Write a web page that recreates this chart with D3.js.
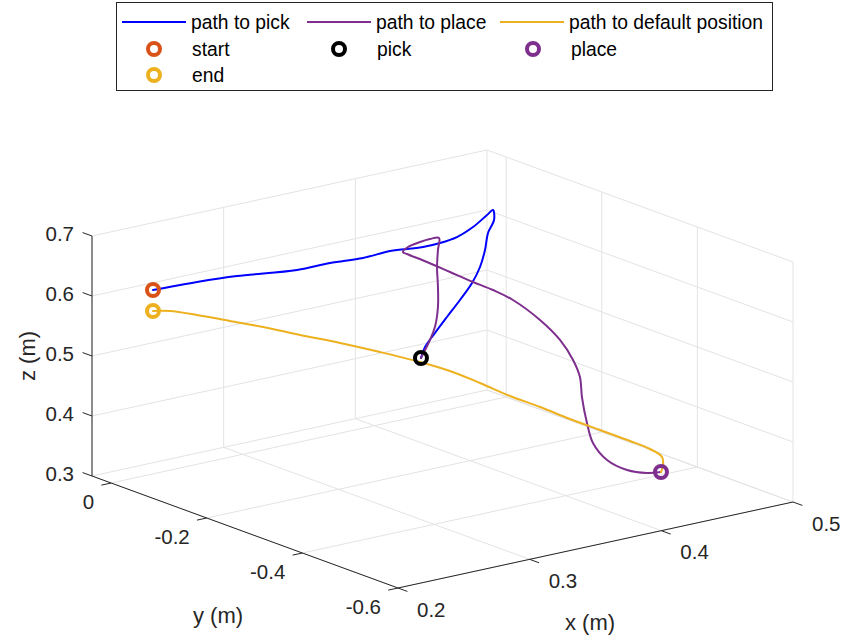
<!DOCTYPE html>
<html>
<head>
<meta charset="utf-8">
<script src="https://cdn.jsdelivr.net/npm/d3@7"></script>
<style>
  html, body { margin: 0; padding: 0; background: #fff; }
  svg { display: block; font-family: "Liberation Sans", Arial, Helvetica, sans-serif; }
</style>
</head>
<body>
<svg id="chart" width="848" height="638"></svg>
<script>
// ---------------- data (metres) ----------------
const xTicks = [0.2, 0.3, 0.4, 0.5];
const yTicks = [-0.6, -0.4, -0.2, 0];
const zTicks = [0.3, 0.4, 0.5, 0.6, 0.7];
const xTickLabels = ["0.2", "0.3", "0.4", "0.5"];
const yTickLabels = ["-0.6", "-0.4", "-0.2", "0"];
const zTickLabels = ["0.3", "0.4", "0.5", "0.6", "0.7"];

const pathToPickX = [0.2318,0.2616,0.2883,0.3285,0.3499,0.3713,0.3882,0.3975,0.4060,0.4153,0.4245,0.4331,0.4401,0.4428,0.4418,0.4354,0.4313,0.4257,0.4160,0.4032,0.3897,0.3770,0.3676,0.3627];
const pathToPickY = [0,-0.01,-0.02,-0.035,-0.045,-0.055,-0.065,-0.075,-0.085,-0.095,-0.105,-0.115,-0.125,-0.13,-0.135,-0.14,-0.145,-0.15,-0.16,-0.17,-0.18,-0.19,-0.195,-0.2];
const pathToPickZ = [0.6065,0.6085,0.6086,0.6038,0.6082,0.6092,0.6157,0.6175,0.6197,0.6248,0.6333,0.6488,0.6684,0.6769,0.6622,0.6450,0.6201,0.5959,0.5768,0.5575,0.5385,0.5209,0.5035,0.4889];

const pathToPlaceX = [0.3627,0.3695,0.3733,0.3756,0.3756,0.3749,0.3756,0.3764,0.3695,0.3620,0.3528,0.3490,0.3484,0.3564,0.3666,0.3768,0.3847,0.3926,0.4059,0.4138,0.4201,0.4217,0.4196,0.4198,0.4207,0.4241,0.4357,0.4472,0.4542];
const pathToPlaceY = [-0.2,-0.2,-0.2,-0.2,-0.2,-0.2,-0.2,-0.2,-0.2,-0.2,-0.2,-0.2,-0.21,-0.23,-0.25,-0.27,-0.29,-0.31,-0.33,-0.35,-0.36,-0.37,-0.38,-0.39,-0.40,-0.42,-0.43,-0.44,-0.45];
const pathToPlaceZ = [0.4889,0.5157,0.5355,0.5678,0.6011,0.6348,0.6628,0.6824,0.6840,0.6826,0.6786,0.6721,0.6720,0.6607,0.6450,0.6293,0.6180,0.6034,0.5695,0.5383,0.5049,0.4786,0.4492,0.4087,0.3779,0.3538,0.3345,0.3269,0.3281];

const pathToDefaultX = [0.4542,0.4557,0.4550,0.4495,0.4416,0.4297,0.4178,0.4059,0.3940,0.3821,0.3702,0.3583,0.3388,0.3194,0.2999,0.2827,0.2685,0.2507,0.2374,0.2318];
const pathToDefaultY = [-0.45,-0.45,-0.45,-0.44,-0.42,-0.39,-0.36,-0.33,-0.30,-0.27,-0.24,-0.21,-0.18,-0.15,-0.12,-0.09,-0.06,-0.04,-0.02,0];
const pathToDefaultZ = [0.3281,0.3374,0.3528,0.3658,0.3771,0.3923,0.4076,0.4245,0.4398,0.4584,0.4753,0.4873,0.5045,0.5201,0.5340,0.5468,0.5548,0.5675,0.5746,0.5715];

const markerNames = ["start", "pick", "place", "end"];
const markerX = [0.2318, 0.3627, 0.4542, 0.2318];
const markerY = [0, -0.2, -0.45, 0];
const markerZ = [0.6065, 0.4889, 0.3281, 0.5715];

const seriesNames = ["path to pick", "path to place", "path to default position"];

// ---------------- styling / layout ----------------
const colors = { pick: "#0000FF", place: "#7E2F8E", deflt: "#EDB120", start: "#D95319", pickM: "#000000", placeM: "#7E2F8E", end: "#EDB120" };
const xDomain = [0.2, 0.5], yDomain = [-0.6, 0.04], zDomain = [0.3, 0.7];
const O = [398, 588], EX = [395, -86], EY = [-306, -112], EZ = [0, -240];

const sx = d3.scaleLinear().domain(xDomain).range([0, 1]);
const sy = d3.scaleLinear().domain(yDomain).range([0, 1]);
const sz = d3.scaleLinear().domain(zDomain).range([0, 1]);
function P(x, y, z) {
  const a = sx(x), b = sy(y), c = sz(z);
  return [O[0] + a * EX[0] + b * EY[0] + c * EZ[0], O[1] + a * EX[1] + b * EY[1] + c * EZ[1]];
}

const svg = d3.select("#chart");
const gridC = "#e3e3e3", axisC = "#262626", textC = "#262626";
const grid = svg.append("g").attr("stroke", gridC).attr("stroke-width", 1).attr("fill", "none");
function seg(g, p, q) {
  g.append("line").attr("x1", p[0]).attr("y1", p[1]).attr("x2", q[0]).attr("y2", q[1]);
}
const [x0, x1] = xDomain, [y0, y1] = yDomain, [z0, z1] = zDomain;
// floor z = z0
xTicks.forEach(x => seg(grid, P(x, y0, z0), P(x, y1, z0)));
yTicks.forEach(y => seg(grid, P(x0, y, z0), P(x1, y, z0)));
// back-left wall y = y1
xTicks.forEach(x => seg(grid, P(x, y1, z0), P(x, y1, z1)));
zTicks.forEach(z => seg(grid, P(x0, y1, z), P(x1, y1, z)));
// back-right wall x = x1
yTicks.forEach(y => seg(grid, P(x1, y, z0), P(x1, y, z1)));
zTicks.forEach(z => seg(grid, P(x1, y0, z), P(x1, y1, z)));

// axes
const ax = svg.append("g").attr("stroke", axisC).attr("stroke-width", 1);
seg(ax, P(x0, y1, z0), P(x0, y1, z1));   // z axis
seg(ax, P(x0, y1, z0), P(x0, y0, z0));   // y axis
seg(ax, P(x0, y0, z0), P(x1, y0, z0));   // x axis
const uEX = [EX[0] / Math.hypot(...EX), EX[1] / Math.hypot(...EX)];
const uEY = [EY[0] / Math.hypot(...EY), EY[1] / Math.hypot(...EY)];
const tl = 10;
const labels = svg.append("g").attr("fill", textC).attr("font-size", 20.5);
zTicks.forEach((z, i) => {
  const p = P(x0, y1, z);
  seg(ax, p, [p[0] + tl * uEY[0], p[1] + tl * uEY[1]]);
  labels.append("text").attr("x", p[0] - 18).attr("y", p[1] - 3).attr("text-anchor", "end")
    .attr("dominant-baseline", "central").text(zTickLabels[i]);
});
yTicks.forEach((y, i) => {
  const p = P(x0, y, z0);
  seg(ax, p, [p[0] - tl * uEX[0], p[1] - tl * uEX[1]]);
  labels.append("text").attr("x", p[0] - 17).attr("y", p[1] + 18).attr("text-anchor", "end")
    .attr("dominant-baseline", "central").text(yTickLabels[i]);
});
xTicks.forEach((x, i) => {
  const p = P(x, y0, z0);
  seg(ax, p, [p[0] - tl * uEY[0], p[1] - tl * uEY[1]]);
  labels.append("text").attr("x", p[0] + 19).attr("y", p[1] + 21).attr("text-anchor", "start")
    .attr("dominant-baseline", "central").text(xTickLabels[i]);
});
const axl = svg.append("g").attr("fill", textC).attr("font-size", 22).attr("text-anchor", "middle").attr("dominant-baseline", "central");
axl.append("text").attr("transform", "translate(27,356) rotate(-90)").text("z (m)");
axl.append("text").attr("x", 218).attr("y", 615).text("y (m)");
axl.append("text").attr("x", 590).attr("y", 622).text("x (m)");

// paths
const line = d3.line().curve(d3.curveCatmullRom.alpha(0.5));
function pts(X, Y, Z) { return X.map((x, i) => P(x, Y[i], Z[i])); }
const paths = svg.append("g").attr("fill", "none").attr("stroke-width", 2).attr("stroke-linejoin", "round").attr("stroke-linecap", "round");
paths.append("path").attr("d", line(pts(pathToPickX, pathToPickY, pathToPickZ))).attr("stroke", colors.pick);
paths.append("path").attr("d", line(pts(pathToPlaceX, pathToPlaceY, pathToPlaceZ))).attr("stroke", colors.place);
paths.append("path").attr("d", line(pts(pathToDefaultX, pathToDefaultY, pathToDefaultZ))).attr("stroke", colors.deflt);

const markerColors = [colors.start, colors.pickM, colors.placeM, colors.end];
const mk = svg.append("g").attr("fill", "none").attr("stroke-width", 4);
markerNames.forEach((n, i) => {
  const p = P(markerX[i], markerY[i], markerZ[i]);
  mk.append("circle").attr("cx", p[0]).attr("cy", p[1]).attr("r", 6).attr("stroke", markerColors[i]);
});

// legend
const lg = svg.append("g").attr("font-size", 19.3).attr("fill", "#000");
lg.append("rect").attr("x", 116.5).attr("y", 2.5).attr("width", 656).attr("height", 88)
  .attr("fill", "#fff").attr("stroke", axisC).attr("stroke-width", 1);
const lineItems = [
  { x: 122, y: 22, c: colors.pick, t: seriesNames[0] },
  { x: 307, y: 22, c: colors.place, t: seriesNames[1] },
  { x: 500, y: 22, c: colors.deflt, t: seriesNames[2] }
];
lineItems.forEach(d => {
  lg.append("line").attr("x1", d.x).attr("y1", d.y).attr("x2", d.x + 64).attr("y2", d.y).attr("stroke", d.c).attr("stroke-width", 2);
  lg.append("text").attr("x", d.x + 69).attr("y", d.y).attr("dominant-baseline", "central").text(d.t);
});
const markItems = [
  { x: 154, y: 49, c: colors.start, t: markerNames[0] },
  { x: 339, y: 49, c: colors.pickM, t: markerNames[1] },
  { x: 533, y: 49, c: colors.placeM, t: markerNames[2] },
  { x: 154, y: 75, c: colors.end, t: markerNames[3] }
];
markItems.forEach(d => {
  lg.append("circle").attr("cx", d.x).attr("cy", d.y).attr("r", 6).attr("fill", "none").attr("stroke", d.c).attr("stroke-width", 4);
  lg.append("text").attr("x", d.x + 38).attr("y", d.y).attr("dominant-baseline", "central").text(d.t);
});
</script>
</body>
</html>
